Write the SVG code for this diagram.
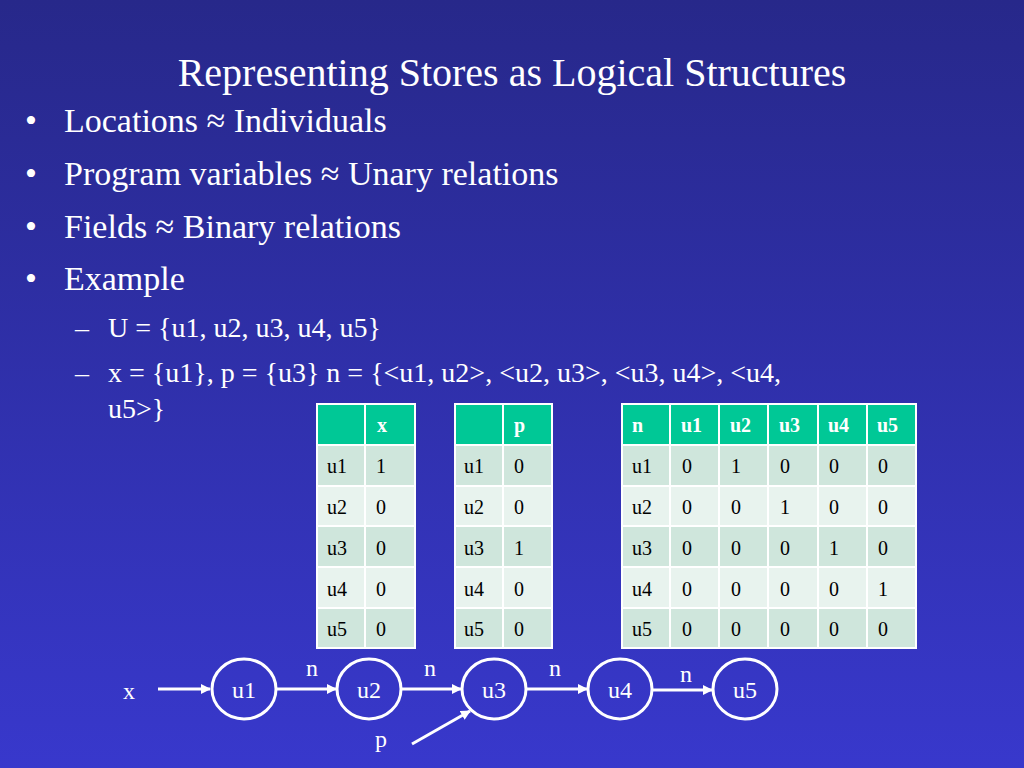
<svg xmlns="http://www.w3.org/2000/svg" width="1024" height="768" viewBox="0 0 1024 768">
<defs>
<linearGradient id="bg" x1="0" y1="0" x2="0" y2="1"><stop offset="0" stop-color="#27288a"/><stop offset="1" stop-color="#3838cc"/></linearGradient>
<marker id="ah" markerWidth="10" markerHeight="10" refX="9" refY="5" orient="auto" markerUnits="userSpaceOnUse"><path d="M0,0 L10,5 L0,10 z" fill="#fff"/></marker>
</defs>
<style>
text{font-family:"Liberation Serif",serif;fill:#fff}
.b{font-size:34px}.s{font-size:28px}
.t{font-size:20px;fill:#000}.h{font-size:20px;font-weight:bold;fill:#fff}
.hd{fill:#00c896;stroke:#fff;stroke-width:2}
.r1{fill:#cfe6dc;stroke:#fff;stroke-width:2}
.r2{fill:#e8f3ee;stroke:#fff;stroke-width:2}
.n{fill:none;stroke:#fff;stroke-width:3}
.c{stroke:#fff;stroke-width:3;fill:none;marker-end:url(#ah)}
.nt{font-size:24px;text-anchor:middle}
</style>
<rect width="1024" height="768" fill="url(#bg)"/>
<text x="512" y="86" font-size="40" text-anchor="middle">Representing Stores as Logical Structures</text>
<text class="b" x="25" y="132">•</text><text class="b" x="64" y="132">Locations ≈ Individuals</text>
<text class="b" x="25" y="185">•</text><text class="b" x="64" y="185">Program variables ≈ Unary relations</text>
<text class="b" x="25" y="238">•</text><text class="b" x="64" y="238">Fields ≈ Binary relations</text>
<text class="b" x="25" y="290">•</text><text class="b" x="64" y="290">Example</text>
<text class="s" x="75" y="337">–</text><text class="s" x="108" y="337">U = {u1, u2, u3, u4, u5}</text>
<text class="s" x="75" y="382">–</text><text class="s" x="108" y="382">x = {u1}, p = {u3} n = {&lt;u1, u2&gt;, &lt;u2, u3&gt;, &lt;u3, u4&gt;, &lt;u4,</text>
<text class="s" x="108" y="418">u5&gt;}</text>
<g id="table-x">
<rect class="hd" x="317" y="404" width="48" height="41"/><rect class="hd" x="365" y="404" width="50" height="41"/>
<text class="h" x="377" y="432">x</text>
<rect class="r1" x="317" y="445" width="48" height="41"/><rect class="r1" x="365" y="445" width="50" height="41"/>
<rect class="r2" x="317" y="486" width="48" height="40"/><rect class="r2" x="365" y="486" width="50" height="40"/>
<rect class="r1" x="317" y="526" width="48" height="41"/><rect class="r1" x="365" y="526" width="50" height="41"/>
<rect class="r2" x="317" y="567" width="48" height="41"/><rect class="r2" x="365" y="567" width="50" height="41"/>
<rect class="r1" x="317" y="608" width="48" height="40"/><rect class="r1" x="365" y="608" width="50" height="40"/>
<text class="t" x="327" y="473">u1</text><text class="t" x="376" y="473">1</text>
<text class="t" x="327" y="514">u2</text><text class="t" x="376" y="514">0</text>
<text class="t" x="327" y="555">u3</text><text class="t" x="376" y="555">0</text>
<text class="t" x="327" y="596">u4</text><text class="t" x="376" y="596">0</text>
<text class="t" x="327" y="636">u5</text><text class="t" x="376" y="636">0</text>
</g>
<g id="table-p">
<rect class="hd" x="455" y="404" width="48" height="41"/><rect class="hd" x="503" y="404" width="49" height="41"/>
<text class="h" x="514" y="432">p</text>
<rect class="r1" x="455" y="445" width="48" height="41"/><rect class="r1" x="503" y="445" width="49" height="41"/>
<rect class="r2" x="455" y="486" width="48" height="40"/><rect class="r2" x="503" y="486" width="49" height="40"/>
<rect class="r1" x="455" y="526" width="48" height="41"/><rect class="r1" x="503" y="526" width="49" height="41"/>
<rect class="r2" x="455" y="567" width="48" height="41"/><rect class="r2" x="503" y="567" width="49" height="41"/>
<rect class="r1" x="455" y="608" width="48" height="40"/><rect class="r1" x="503" y="608" width="49" height="40"/>
<text class="t" x="464" y="473">u1</text><text class="t" x="514" y="473">0</text>
<text class="t" x="464" y="514">u2</text><text class="t" x="514" y="514">0</text>
<text class="t" x="464" y="555">u3</text><text class="t" x="514" y="555">1</text>
<text class="t" x="464" y="596">u4</text><text class="t" x="514" y="596">0</text>
<text class="t" x="464" y="636">u5</text><text class="t" x="514" y="636">0</text>
</g>
<g id="table-n">
<rect class="hd" x="622" y="404" width="294" height="41"/>
<path d="M670,404V445M719,404V445M768,404V445M818,404V445M867,404V445" stroke="#fff" stroke-width="2"/>
<text class="h" x="632" y="432">n</text><text class="h" x="681" y="432">u1</text><text class="h" x="730" y="432">u2</text><text class="h" x="779" y="432">u3</text><text class="h" x="828" y="432">u4</text><text class="h" x="877" y="432">u5</text>
<rect class="r1" x="622" y="445" width="294" height="41"/>
<rect class="r2" x="622" y="486" width="294" height="40"/>
<rect class="r1" x="622" y="526" width="294" height="41"/>
<rect class="r2" x="622" y="567" width="294" height="41"/>
<rect class="r1" x="622" y="608" width="294" height="40"/>
<path d="M670,445V648M719,445V648M768,445V648M818,445V648M867,445V648" stroke="#fff" stroke-width="2"/>
<text class="t" x="632" y="473">u1</text><text class="t" x="682" y="473">0</text><text class="t" x="731" y="473">1</text><text class="t" x="780" y="473">0</text><text class="t" x="829" y="473">0</text><text class="t" x="878" y="473">0</text>
<text class="t" x="632" y="514">u2</text><text class="t" x="682" y="514">0</text><text class="t" x="731" y="514">0</text><text class="t" x="780" y="514">1</text><text class="t" x="829" y="514">0</text><text class="t" x="878" y="514">0</text>
<text class="t" x="632" y="555">u3</text><text class="t" x="682" y="555">0</text><text class="t" x="731" y="555">0</text><text class="t" x="780" y="555">0</text><text class="t" x="829" y="555">1</text><text class="t" x="878" y="555">0</text>
<text class="t" x="632" y="596">u4</text><text class="t" x="682" y="596">0</text><text class="t" x="731" y="596">0</text><text class="t" x="780" y="596">0</text><text class="t" x="829" y="596">0</text><text class="t" x="878" y="596">1</text>
<text class="t" x="632" y="636">u5</text><text class="t" x="682" y="636">0</text><text class="t" x="731" y="636">0</text><text class="t" x="780" y="636">0</text><text class="t" x="829" y="636">0</text><text class="t" x="878" y="636">0</text>
</g>
<g id="connectors">
<path class="c" d="M158,689H210"/>
<path class="c" d="M277,689H336"/>
<path class="c" d="M402,689H461"/>
<path class="c" d="M527,689H587"/>
<path class="c" d="M653,690H712"/>
<path class="c" d="M412,744L470,711"/>
<text class="nt" x="312" y="676">n</text>
<text class="nt" x="430" y="676">n</text>
<text class="nt" x="555" y="676">n</text>
<text class="nt" x="686" y="682">n</text>
</g>
<g id="var-x"><text class="nt" x="129" y="699">x</text></g>
<g id="var-p"><text class="nt" x="381" y="747">p</text></g>
<g id="node-u1"><ellipse class="n" cx="244" cy="689" rx="32" ry="30"/><text class="nt" x="244" y="698">u1</text></g>
<g id="node-u2"><ellipse class="n" cx="369" cy="689" rx="32" ry="30"/><text class="nt" x="369" y="698">u2</text></g>
<g id="node-u3"><ellipse class="n" cx="494" cy="689" rx="32" ry="30"/><text class="nt" x="494" y="698">u3</text></g>
<g id="node-u4"><ellipse class="n" cx="620" cy="689" rx="32" ry="30"/><text class="nt" x="620" y="698">u4</text></g>
<g id="node-u5"><ellipse class="n" cx="745" cy="689" rx="32" ry="30"/><text class="nt" x="745" y="698">u5</text></g>
</svg>
